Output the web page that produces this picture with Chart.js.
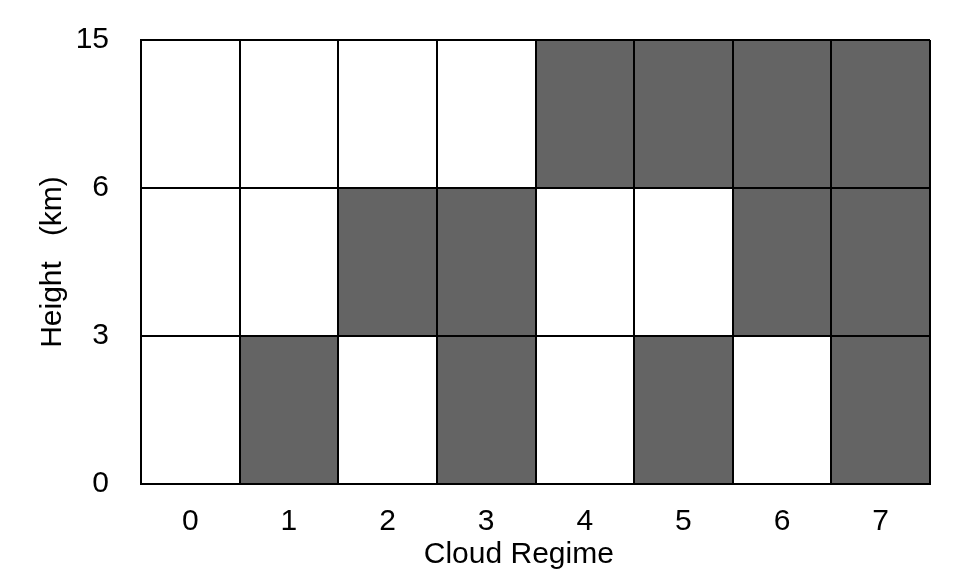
<!DOCTYPE html>
<html>
<head>
<meta charset="utf-8">
<script src="https://cdn.jsdelivr.net/npm/chart.js@4/dist/chart.umd.min.js"></script>
<style>
    html, body { margin: 0; padding: 0; background: #fff; }
    #wrap { width: 968px; height: 573px; }
</style>
</head>
<body>
<div id="wrap"><canvas id="regimeChart" width="968" height="573"></canvas></div>
<script>
// Cloud regimes (x) and height layers (y)
const regimes = ['0', '1', '2', '3', '4', '5', '6', '7'];
const heightLabels = ['0', '3', '6', '15'];

// 1 = cloud present in layer, 0 = clear
const lowLayer  = [0, 1, 0, 1, 0, 1, 0, 1];   // 0-3 km
const midLayer  = [0, 0, 1, 1, 0, 0, 1, 1];   // 3-6 km
const highLayer = [0, 0, 0, 0, 1, 1, 1, 1];   // 6-15 km

const FILL = '#646464';
const FONT = { family: 'Liberation Sans', size: 30 };

function layerDataset(flags, level) {
    return {
        data: flags.map(() => [level, level + 1]),
        backgroundColor: flags.map(f => f ? FILL : '#ffffff'),
        borderWidth: 0,
        grouped: false,
        barPercentage: 1,
        categoryPercentage: 1
    };
}

new Chart(document.getElementById('regimeChart'), {
    type: 'bar',
    data: {
        labels: regimes,
        datasets: [
            layerDataset(lowLayer, 0),
            layerDataset(midLayer, 1),
            layerDataset(highLayer, 2)
        ]
    },
    options: {
        responsive: false,
        animation: false,
        layout: { padding: { left: 0, top: 40, right: 38, bottom: 0 } },
        plugins: {
            legend: { display: false },
            tooltip: { enabled: false }
        },
        scales: {
            x: {
                type: 'category',
                offset: true,
                grid: { offset: true, color: '#000', lineWidth: 2, drawTicks: false, z: 1 },
                border: { color: '#000', width: 2, z: 1 },
                ticks: { color: '#000', font: FONT, padding: 20, maxRotation: 0 },
                // trailing spaces nudge the centred title a little left, as in the original
                title: { display: true, text: 'Cloud Regime    ', color: '#000', font: FONT, padding: { top: 0, bottom: 0 } },
                afterFit: scale => {
                    scale.height = 89;
                    scale.paddingLeft = 0;
                    scale.paddingRight = 0;
                }
            },
            y: {
                type: 'linear',
                min: 0,
                max: 3,
                grid: { color: '#000', lineWidth: 2, drawTicks: false, z: 1 },
                border: { color: '#000', width: 2, z: 1 },
                ticks: {
                    stepSize: 1,
                    color: '#000',
                    font: FONT,
                    padding: 32,
                    callback: v => heightLabels[v]
                },
                title: { display: true, text: 'Height   (km)', color: '#000', font: FONT, padding: { top: 35, bottom: 0 } },
                afterFit: scale => {
                    scale.width = 141;
                    scale.paddingTop = 0;
                    scale.paddingBottom = 0;
                }
            }
        }
    }
});
</script>
</body>
</html>
